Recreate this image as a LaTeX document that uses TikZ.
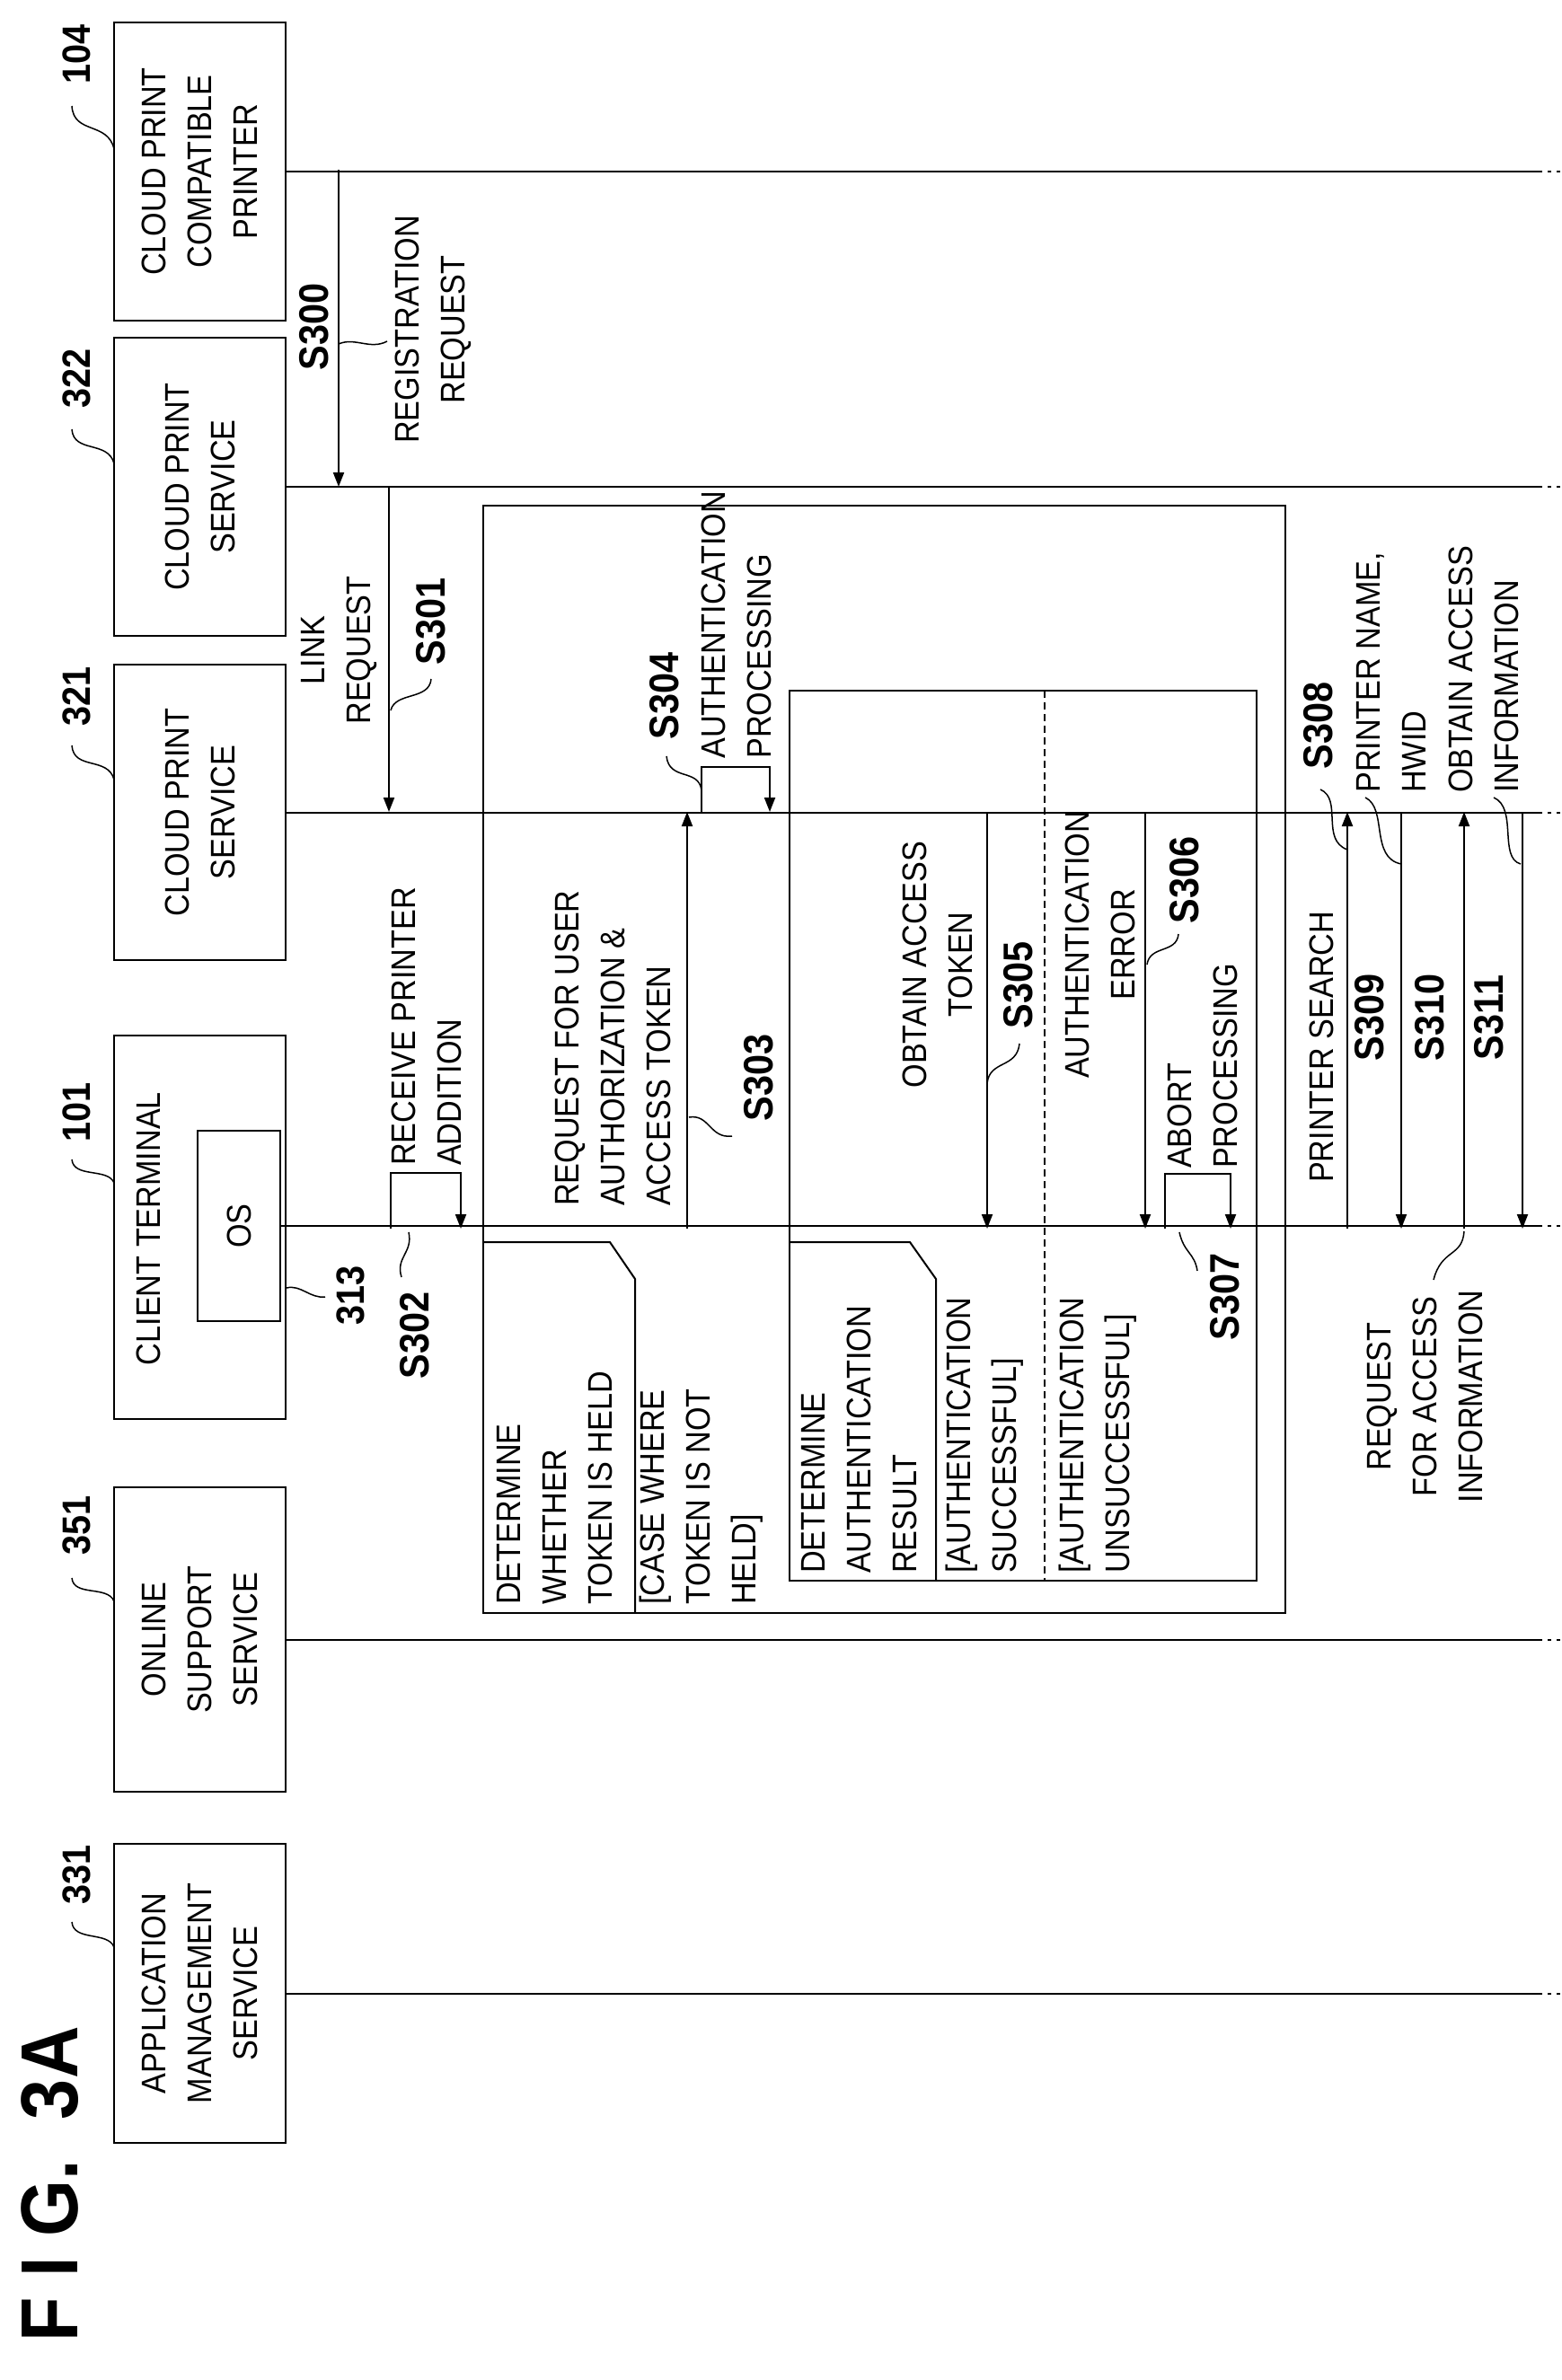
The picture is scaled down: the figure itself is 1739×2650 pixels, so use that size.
\documentclass[tikz,border=0pt]{standalone}
\usepackage{fontspec}
\setmainfont{Liberation Sans}[FakeStretch=0.9]
\usetikzlibrary{arrows.meta}
\newcommand{\ftxt}{\fontsize{38}{51}\selectfont}
\newcommand{\fstep}{\fontsize{46}{50}\selectfont\bfseries}
\newcommand{\fref}{\fontsize{44}{50}\selectfont\bfseries}
\begin{document}
\begin{tikzpicture}[x=1pt,y=-1pt,
  pbox/.style={draw,line width=2.5pt,rotate=90,inner sep=0,font=\ftxt,align=center},
  txt/.style={rotate=90,inner sep=0,font=\ftxt,align=center},
  txl/.style={rotate=90,inner sep=0,font=\ftxt,align=left,anchor=west},
  stp/.style={rotate=90,inner sep=0,font=\fstep},
  rf/.style={rotate=90,inner sep=0,font=\fref},
  life/.style={line width=2pt},
  frm/.style={line width=2pt},
  msg/.style={line width=2pt,-{Triangle[length=16pt,width=12pt]}},
  lead/.style={line width=1.5pt}]
\useasboundingbox (0,0) rectangle (1739,2650);
% title
\node[rotate=90,inner sep=0,font=\fontsize{90}{100}\selectfont\bfseries] (fig) at (56,2432) {F I G.\ \ 3A};
% participants
\node[pbox,minimum width=332pt,minimum height=191pt] (p104) at (222.5,191) {CLOUD PRINT\\COMPATIBLE\\PRINTER};
\node[pbox,minimum width=332pt,minimum height=191pt] (p322) at (222.5,542) {CLOUD PRINT\\SERVICE};
\node[pbox,minimum width=329pt,minimum height=191pt] (p321) at (222.5,904.5) {CLOUD PRINT\\SERVICE};
\node[pbox,minimum width=427pt,minimum height=191pt] (p101) at (222.5,1366.5) {};
\node[txt] (t101) at (165,1368) {CLIENT TERMINAL};
\node[pbox,minimum width=212pt,minimum height=92pt] (os) at (266,1365) {OS};
\node[pbox,minimum width=339pt,minimum height=191pt] (p351) at (222.5,1825.5) {ONLINE\\SUPPORT\\SERVICE};
\node[pbox,minimum width=333pt,minimum height=191pt] (p331) at (222.5,2219.5) {APPLICATION\\MANAGEMENT\\SERVICE};
% reference numbers
\node[rf] (r104) at (85,60) {104};
\node[rf] (r322) at (85,421) {322};
\node[rf] (r321) at (85,775) {321};
\node[rf] (r101) at (85,1238) {101};
\node[rf] (r351) at (85,1698) {351};
\node[rf] (r331) at (85,2087) {331};
\node[rf] (r313) at (390,1442) {313};
\draw[lead] (80,118) .. controls (82,150) and (120,135) .. (127,166);
\draw[lead] (80,478) .. controls (82,505) and (120,490) .. (127,516);
\draw[lead] (80,830) .. controls (82,858) and (120,842) .. (127,868);
\draw[lead] (80,1291) .. controls (82,1312) and (120,1300) .. (127,1317);
\draw[lead] (80,1757) .. controls (82,1778) and (120,1765) .. (127,1783);
\draw[lead] (80,2140) .. controls (82,2162) and (120,2150) .. (127,2168);
\draw[lead] (319,1434) .. controls (335,1430) and (345,1446) .. (362,1444);
% lifelines
\coordinate (endx) at (1713,0);
\coordinate (brk) at (1739,0);
\foreach \p in {p104,p322,p321,p351,p331}{
  \draw[life] (\p.south) -- (\p.south -| endx);
  \draw[life,dash pattern=on 4pt off 6pt] (\p.south -| endx) -- (\p.south -| brk);
}
\draw[life] (os.south) -- (os.south -| endx);
\draw[life,dash pattern=on 4pt off 6pt] (os.south -| endx) -- (os.south -| brk);
% S300
\draw[msg] (377,189) coordinate (a300) -- (377,542) coordinate (b300);
\node[stp] (s300) at (350,364) {S300};
\node[txt] (m300) at (482,367) {REGISTRATION\\REQUEST};
\draw[lead] (377,383) .. controls (395,375) and (412,390) .. (431,380);
% S301
\draw[msg] (433,542) coordinate (a301) -- (433,904) coordinate (b301);
\node[txt] (m301) at (378,724) {LINK\\REQUEST};
\node[stp] (s301) at (480,692) {S301};
\draw[lead] (480,756) .. controls (478,780) and (440,770) .. (435,791);
% S302
\draw[msg] (435,1368) -- (435,1306) -- (513,1306) -- (513,1368);
\node[txl] (m302) at (475,1298) {RECEIVE PRINTER\\ADDITION};
\node[stp] (s302) at (462,1487) {S302};
\draw[lead] (455,1372) .. controls (460,1395) and (440,1400) .. (447,1422);
% outer frame
\draw[frm] (538,563) rectangle (1431,1796);
\draw[frm] (538,1383) -- (679,1383) -- (707,1424) -- (707,1796);
\node[txl] (f1) at (618,1787) {DETERMINE\\WHETHER\\TOKEN IS HELD};
\node[txl] (g1) at (781,1787) {[CASE WHERE\\TOKEN IS NOT\\HELD]};
% S303
\draw[msg] (765,1368) -- (765,904);
\node[txl] (m303) at (682,1343) {REQUEST FOR USER\\AUTHORIZATION \&\\ACCESS TOKEN};
\node[stp] (s303) at (845,1200) {S303};
\draw[lead] (767,1244) .. controls (790,1240) and (790,1268) .. (815,1265);
% S304
\draw[msg] (781,904) -- (781,854) -- (857,854) -- (857,904);
\node[stp] (s304) at (740,775) {S304};
\draw[lead] (742,842) .. controls (745,870) and (778,855) .. (781,880);
\node[txl] (m304) at (820,845) {AUTHENTICATION\\PROCESSING};
% inner frame
\draw[frm] (879,769) rectangle (1399,1760);
\draw[frm] (879,1383) -- (1013,1383) -- (1042,1424) -- (1042,1760);
\draw[frm,dash pattern=on 8pt off 5pt] (1163,769) -- (1163,1760);
\node[txl] (f2) at (957,1752) {DETERMINE\\AUTHENTICATION\\RESULT};
\node[txl] (g2) at (1096,1752) {[AUTHENTICATION\\SUCCESSFUL]};
\node[txl] (g3) at (1222,1752) {[AUTHENTICATION\\UNSUCCESSFUL]};
% S305
\draw[msg] (1099,904) -- (1099,1368);
\node[txt] (m305) at (1044,1074) {OBTAIN ACCESS\\TOKEN};
\node[stp] (s305) at (1134,1097) {S305};
\draw[lead] (1135,1162) .. controls (1132,1190) and (1102,1180) .. (1099,1206);
% S306
\draw[msg] (1275,904) -- (1275,1368);
\node[txt] (m306) at (1225,1052) {AUTHENTICATION\\ERROR};
\node[stp] (s306) at (1319,980) {S306};
\draw[lead] (1312,1040) .. controls (1310,1062) and (1280,1052) .. (1277,1074);
% S307
\draw[msg] (1297,1368) -- (1297,1307) -- (1370,1307) -- (1370,1368);
\node[txl] (m307) at (1339,1301) {ABORT\\PROCESSING};
\node[stp] (s307) at (1364,1444) {S307};
\draw[lead] (1313,1372) .. controls (1318,1395) and (1330,1395) .. (1333,1415);
% S308
\draw[msg] (1500,1368) -- (1500,904);
\node[txl] (m308) at (1471,1317) {PRINTER SEARCH};
\node[stp] (s308) at (1468,808) {S308};
\draw[lead] (1470,879) .. controls (1495,890) and (1470,935) .. (1500,946);
% S309
\draw[msg] (1560,904) -- (1560,1368);
\node[txl] (m309) at (1549,883) {PRINTER NAME,\\HWID};
\node[stp] (s309) at (1525,1133) {S309};
\draw[lead] (1520,888) .. controls (1545,900) and (1525,955) .. (1560,962);
% S310
\draw[msg] (1630,1368) -- (1630,904);
\node[stp] (s310) at (1592,1133) {S310};
\node[txt] (m310) at (1586,1555) {REQUEST\\FOR ACCESS\\INFORMATION};
\draw[lead] (1596,1425) .. controls (1605,1390) and (1628,1400) .. (1630,1371);
% S311
\draw[msg] (1695,904) -- (1695,1368);
\node[stp] (s311) at (1658,1133) {S311};
\node[txl] (m311) at (1652,883) {OBTAIN ACCESS\\INFORMATION};
\draw[lead] (1663,888) .. controls (1690,900) and (1668,955) .. (1693,962);
\end{tikzpicture}
\end{document}
